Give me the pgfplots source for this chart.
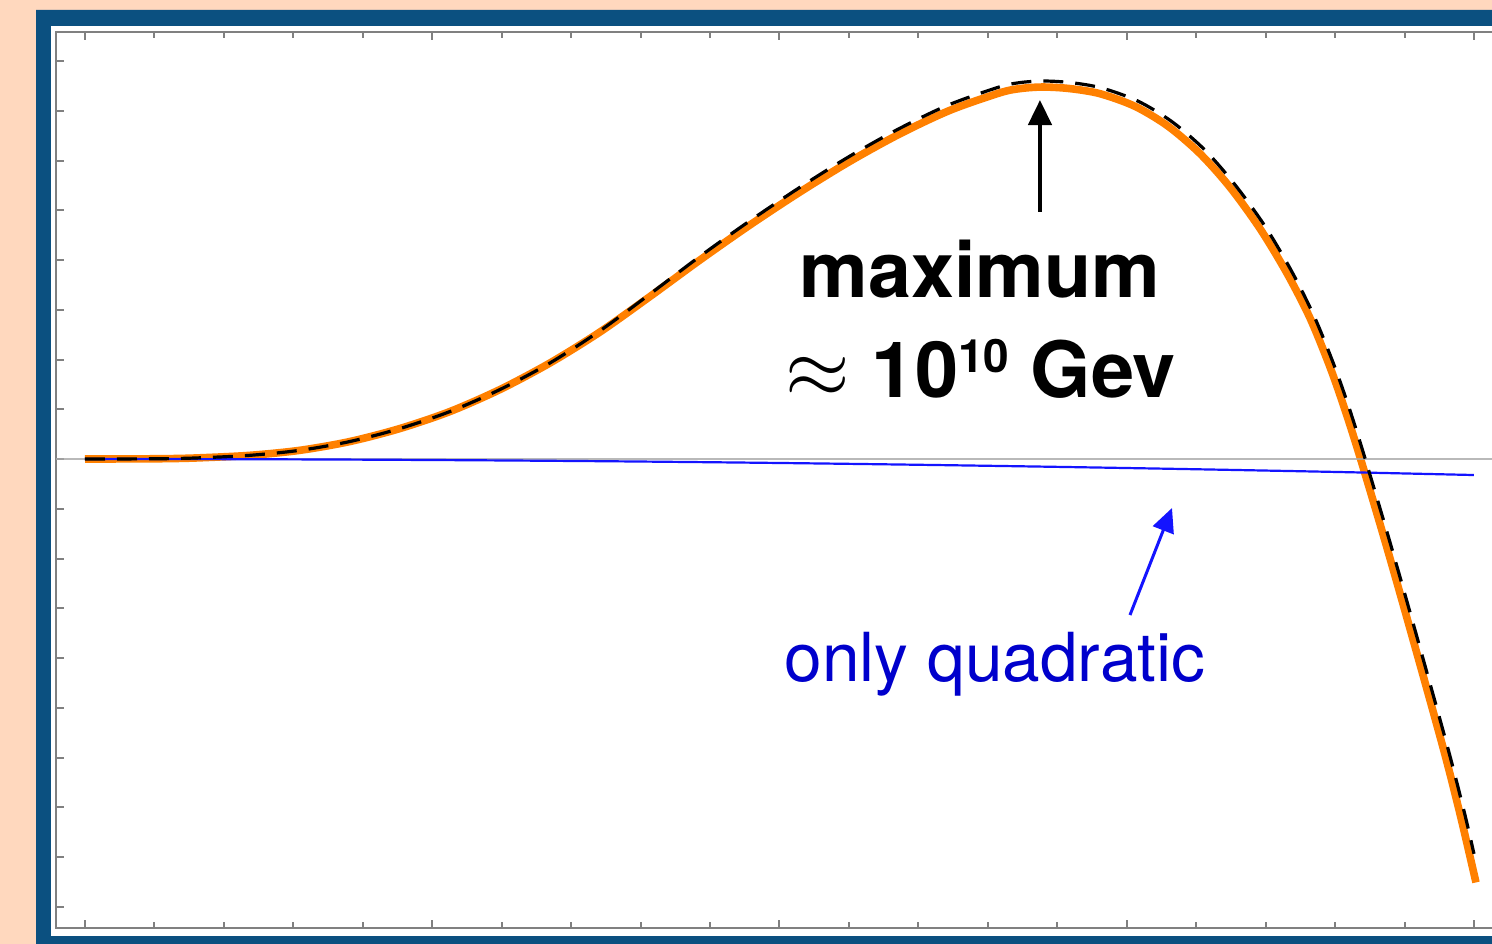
\documentclass[border=0pt]{standalone}
\usepackage{pgfplots}
\pgfplotsset{compat=1.18}
\usetikzlibrary{arrows.meta}
\usepackage{fontspec}
\setmainfont{TeX Gyre Heros}

\definecolor{peach}{HTML}{FFD8BE}
\definecolor{framebl}{HTML}{0B5080}
\definecolor{curveor}{HTML}{FF8000}
\definecolor{axisgr}{HTML}{808080}
\definecolor{zerogr}{HTML}{A8A8A8}
\definecolor{quadbl}{HTML}{1414FF}
\definecolor{labelbl}{HTML}{0000CC}

\begin{document}
\begin{tikzpicture}
% page background and the framed panel
\fill[peach] (0,0) rectangle (373pt,236pt);
\fill[framebl,even odd rule] (9pt,-5pt) rectangle (381pt,233.5pt)
                             (12.75pt,2pt) rectangle (377pt,229.5pt);
\fill[white] (12.75pt,2pt) rectangle (377pt,229.5pt);

\begin{axis}[
  scale only axis,
  width=361.75pt, height=224pt,
  at={(14pt,4pt)}, anchor=south west,
  xmin=-0.4176, xmax=20.418,
  ymin=-9.427, ymax=8.583,
  axis line style={axisgr, line width=0.5pt},
  every tick/.style={axisgr, line width=0.5pt},
  xtick={0,5,10,15,20},
  minor xtick={1,2,3,4,6,7,8,9,11,12,13,14,16,17,18,19},
  ytick={-9,-8,...,8},
  major tick length=2.1pt, minor tick length=1.5pt,
  tick align=inside,
  xtick pos=both, ytick pos=left,
  xticklabels={}, yticklabels={},
  clip=false,
]
% full potential
\addplot[curveor, line width=1.9pt, smooth] coordinates {
 (0.000,0.000) (0.648,0.002) (1.224,0.008) (1.656,0.024) (2.376,0.074)
 (3.096,0.175) (3.816,0.352) (4.536,0.613) (5.256,0.955) (5.976,1.397)
 (6.695,1.930) (7.415,2.553) (8.135,3.266) (8.855,4.000) (9.575,4.704)
 (10.295,5.367) (11.015,5.984) (11.735,6.537) (12.455,7.009) (13.175,7.361)
 (13.463,7.445) (13.794,7.477) (14.183,7.445) (14.615,7.343) (15.119,7.089)
 (15.594,6.691) (16.055,6.139) (16.487,5.463) (16.919,4.631) (17.307,3.735)
 (17.639,2.834) (17.927,1.849) (18.143,0.989) (18.359,0.040) (18.719,-1.648)
 (19.078,-3.407) (19.554,-5.795) (19.798,-7.128) (20.029,-8.511)
};
% zero line
\addplot[zerogr, line width=0.5pt, opacity=0.8] coordinates {(-0.4176,0) (20.418,0)};
% quadratic term only
\addplot[quadbl, line width=0.55pt, smooth] coordinates {
 (0,0) (2,-0.003) (4,-0.013) (6,-0.029) (8,-0.051) (10,-0.080)
 (12,-0.116) (14,-0.158) (16,-0.206) (18,-0.260) (20,-0.322)
};
% approximation
\addplot[black, line width=0.8pt, dash pattern=on 5pt off 3pt, smooth] coordinates {
 (0.000,0.000) (0.648,0.002) (1.224,0.008) (1.656,0.024) (2.376,0.074)
 (3.096,0.175) (3.816,0.352) (4.536,0.613) (5.256,0.955) (5.976,1.397)
 (6.695,1.930) (7.407,2.569) (8.118,3.298) (8.830,4.048) (9.547,4.762)
 (10.265,5.435) (10.982,6.062) (11.702,6.625) (12.425,7.112) (13.153,7.473)
 (13.452,7.564) (13.794,7.598) (14.193,7.566) (14.636,7.459) (15.156,7.198)
 (15.644,6.788) (16.115,6.225) (16.548,5.532) (16.985,4.692) (17.371,3.783)
 (17.698,2.872) (17.987,1.881) (18.205,1.017) (18.420,0.066) (18.780,-1.622)
 (19.140,-3.383) (19.616,-5.771) (19.862,-7.106) (20.000,-7.936)
};

% annotations
\draw[black, line width=1pt, -{Triangle[length=6.25pt,width=5.8pt]}]
  (axis cs:13.751,4.965) -- (axis cs:13.751,7.216);
\node[anchor=base, inner sep=0pt, font=\fontsize{19.3}{23}\selectfont\bfseries]
  at (axis cs:12.887,3.256) {maximum};
\node[anchor=base, inner sep=0pt, font=\fontsize{19.4}{23}\selectfont\bfseries]
  at (axis cs:12.900,1.246)
  {$\approx$ 10\raisebox{6.2pt}{\fontsize{11.5}{12}\selectfont 10} Gev};

\draw[quadbl, line width=0.75pt, -{Triangle[length=6pt,width=5.5pt]}]
  (axis cs:15.047,-3.136) -- (axis cs:15.652,-0.985);
\node[anchor=base, inner sep=0pt, text=labelbl, font=\fontsize{16.9}{20}\selectfont]
  at (axis cs:13.103,-4.482) {only quadratic};
\end{axis}

\pgfresetboundingbox
\path[use as bounding box] (0,0) rectangle (373pt,236pt);
\end{tikzpicture}
\end{document}
